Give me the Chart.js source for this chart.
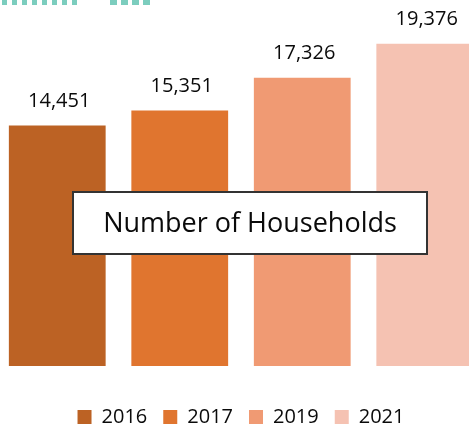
<!DOCTYPE html>
<html>
<head>
<meta charset="utf-8">
<script src="https://cdn.jsdelivr.net/npm/chart.js@4.4.1/dist/chart.umd.min.js"></script>
<style>
  html, body { margin: 0; padding: 0; background: #ffffff; overflow: hidden; }
  body { width: 469px; height: 429px; position: relative; }
  #wrap { position: absolute; left: -4px; top: 0; width: 490px; height: 437px; }
  .deco { position: absolute; top: 0; height: 5px; }
  #deco1 { left: 2px; width: 76px;
    background: repeating-linear-gradient(90deg, #7ccdbe 0 5px, transparent 5px 10px); }
  #deco2 { left: 110px; width: 41px;
    background: repeating-linear-gradient(90deg, #7ccdbe 0 7px, transparent 7px 11px); }
</style>
</head>
<body>
<div class="deco" id="deco1"></div>
<div class="deco" id="deco2"></div>
<div id="wrap"><canvas id="chart-households"></canvas></div>
<script>
// ===== Households by year =====
const YEARS = ['2016', '2017', '2019', '2021'];
const HOUSEHOLDS = [14451, 15351, 17326, 19376];
const BAR_COLORS = ['#bc6224', '#e0752f', '#f09a73', '#f5c2b2'];
const CATEGORY = ['Households'];
const BOX_TITLE = 'Number of Households';

const THEME = {
  ink: '#0a0a0a',
  border: '#333333',
  font: "'Open Sans', sans-serif",
};

Chart.defaults.font.family = THEME.font;
Chart.defaults.color = THEME.ink;

// value labels above each bar
const valueLabels = {
  id: 'valueLabels',
  afterDatasetsDraw(chart) {
    const { ctx } = chart;
    ctx.save();
    ctx.font = `20px ${THEME.font}`;
    ctx.fillStyle = THEME.ink;
    ctx.textAlign = 'center';
    ctx.textBaseline = 'alphabetic';
    chart.data.datasets.forEach((ds, i) => {
      const meta = chart.getDatasetMeta(i);
      meta.data.forEach((bar, j) => {
        const v = ds.data[j];
        ctx.fillText(v.toLocaleString('en-US'), bar.x + 2, bar.y - 19);
      });
    });
    ctx.restore();
  }
};

// boxed caption laid over the bars
const captionBox = {
  id: 'captionBox',
  afterDraw(chart) {
    const { ctx } = chart;
    const x = 77, y = 192, w = 354, h = 62;
    ctx.save();
    ctx.fillStyle = '#ffffff';
    ctx.fillRect(x, y, w, h);
    ctx.strokeStyle = THEME.border;
    ctx.lineWidth = 2;
    ctx.strokeRect(x, y, w, h);
    ctx.font = `27px ${THEME.font}`;
    ctx.fillStyle = THEME.ink;
    ctx.textAlign = 'center';
    ctx.textBaseline = 'middle';
    ctx.fillText(BOX_TITLE, x + w / 2, y + h / 2 + 1);
    ctx.restore();
  }
};

const ctx = document.getElementById('chart-households');
new Chart(ctx, {
  type: 'bar',
  data: {
    labels: CATEGORY,
    datasets: YEARS.map((year, i) => ({
      label: year,
      data: [HOUSEHOLDS[i]],
      backgroundColor: BAR_COLORS[i],
      borderWidth: 0,
      categoryPercentage: 1,
      barPercentage: 0.79,
    }))
  },
  options: {
    responsive: true,
    maintainAspectRatio: false,
    animation: false,
    layout: { padding: 0 },
    plugins: {
      legend: {
        position: 'bottom',
        labels: {
          color: THEME.ink,
          boxWidth: 14,
          boxHeight: 14,
          padding: 16,
          font: { size: 20 },
        }
      },
      tooltip: { enabled: false },
    },
    scales: {
      x: {
        display: true,
        ticks: { display: false },
        grid: { display: false },
        border: { display: false },
        afterFit: (scale) => { scale.height = 25; },
      },
      y: {
        display: false,
        min: 0,
        max: 22000,
      }
    }
  },
  plugins: [valueLabels, captionBox]
});
</script>
</body>
</html>
